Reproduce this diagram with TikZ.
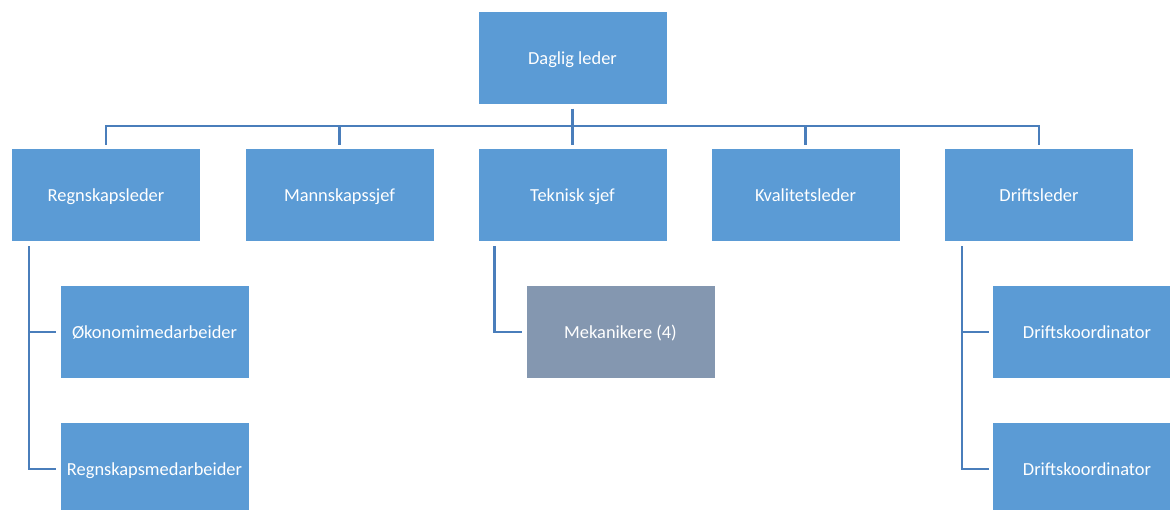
\documentclass[tikz,border=0pt]{standalone}
\usepackage{fontspec}
\setmainfont{Carlito}
\definecolor{boxblue}{HTML}{5B9BD5}
\definecolor{boxgray}{HTML}{8497B0}
\definecolor{linecol}{HTML}{4A7EBB}
\begin{document}
\begin{tikzpicture}[x=1pt,y=1pt,
  orgbox/.style={rectangle, fill=boxblue, draw=none, minimum width=188pt, minimum height=92pt,
    inner sep=0pt, text=white, font=\fontsize{18.4}{22}\selectfont,
    text height=15pt, text depth=2pt},
  graybox/.style={orgbox, fill=boxgray},
  conn/.style={draw=linecol, line width=2.6pt}]
\useasboundingbox (0,0) rectangle (1170,509);
\clip (0,0) rectangle (1170,509);
% top
\node[orgbox] (dl) at (572.5,450.5) {Daglig leder};
% row 2
\node[orgbox] (rl) at (106,314) {Regnskapsleder};
\node[orgbox] (ms) at (339.5,314) {Mannskapssjef};
\node[orgbox] (ts) at (572.5,314) {Teknisk sjef};
\node[orgbox] (kv) at (805.5,314) {Kvalitetsleder};
\node[orgbox] (dr) at (1039,314) {Driftsleder};
% row 3
\node[orgbox] (om) at (154.5,177) {Økonomimedarbeider};
\node[graybox] (mk) at (620.5,177) {Mekanikere (4)};
\node[orgbox] (dk1) at (1087,177) {Driftskoordinator};
% row 4
\node[orgbox] (rm) at (154.5,40) {Regnskapsmedarbeider};
\node[orgbox] (dk2) at (1087,40) {Driftskoordinator};
% bus
\coordinate (bus) at (572.5,383);
\draw[conn] ([yshift=-4pt]dl.south) -- ([yshift=4pt]ts.north);
\draw[conn] ([yshift=4pt]rl.north) |- (bus) -| ([yshift=4pt]dr.north);
\draw[conn] ([yshift=4pt]ms.north) -- (ms.north |- bus);
\draw[conn] ([yshift=4pt]kv.north) -- (kv.north |- bus);
% left subtree
\draw[conn] ([xshift=17pt,yshift=-5pt]rl.south west) |- ([xshift=-4pt]rm.west);
\draw[conn] ([xshift=17pt]rl.south west |- om.west) -- ([xshift=-4pt]om.west);
% middle subtree
\draw[conn] ([xshift=16pt,yshift=-5pt]ts.south west) |- ([xshift=-4pt]mk.west);
% right subtree
\draw[conn] ([xshift=17pt,yshift=-5pt]dr.south west) |- ([xshift=-4pt]dk2.west);
\draw[conn] ([xshift=17pt]dr.south west |- dk1.west) -- ([xshift=-4pt]dk1.west);
\end{tikzpicture}
\end{document}
